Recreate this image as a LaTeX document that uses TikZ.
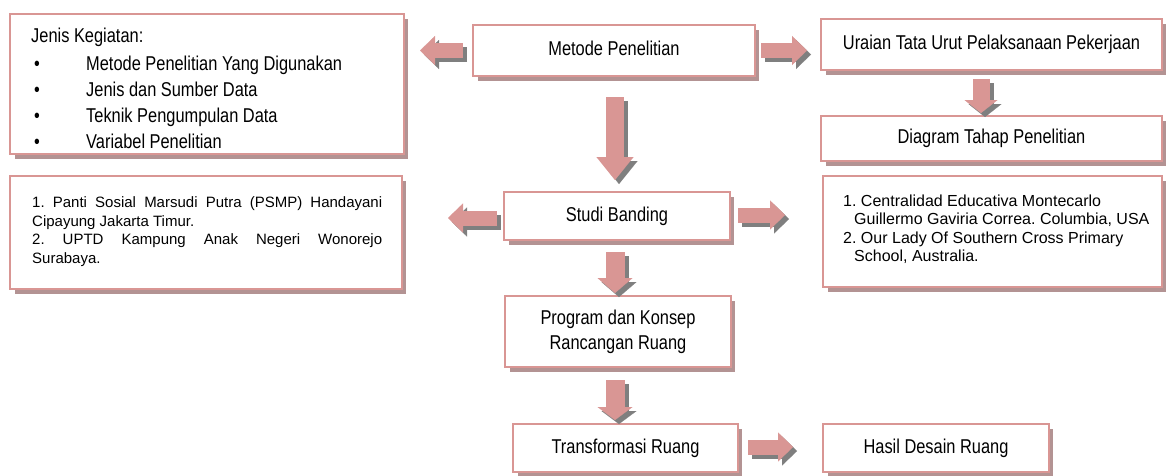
\documentclass[tikz,border=0pt]{standalone}
\usepackage{fontspec}
\setmainfont{Liberation Sans}
\newfontfamily\narrowfont[FakeStretch=0.82]{Liberation Sans}
\usetikzlibrary{calc,shadows,arrows.meta}
\frenchspacing
\definecolor{pinkline}{HTML}{D99694}
\definecolor{boxshade}{HTML}{B39393}
\definecolor{arrowshade}{HTML}{7F7F7F}
\tikzset{
  box/.style={draw=pinkline, line width=2.2pt, fill=white, inner sep=0pt,
    drop shadow={shadow xshift=4.5pt, shadow yshift=-5pt, fill=boxshade, opacity=1}},
  maintext/.style={font=\narrowfont\fontsize{20}{25}\selectfont, align=center,
    text height=14.3pt, text depth=4.2pt},
  blockarrow/.style n args={4}{line width=#1, draw=#4,
    -{Triangle[width=#2,length=#3,line width=0.1pt]}},
  plaintext/.style={inner sep=0pt, anchor=north west, align=left}
}
\newcommand\barrow[5]{%
  \draw[blockarrow={#3}{#4}{#5}{arrowshade}] ($#1+(4,4)$) -- ($#2+(4,4)$);
  \draw[blockarrow={#3}{#4}{#5}{pinkline}] #1 -- #2;}
\begin{document}
\begin{tikzpicture}[x=1pt,y=-1pt]
\useasboundingbox (0,0) rectangle (1166,475);
% boxes
\node[box, minimum width=393.8pt, minimum height=139.8pt] (box1) at (207,84) {};
\node[box, maintext, minimum width=281.8pt, minimum height=50.8pt] (metode) at (614,50.5) {Metode Penelitian};
\node[box, maintext, minimum width=340.8pt, minimum height=50.8pt] (uraian) at (991.5,44.5) {Uraian Tata Urut Pelaksanaan Pekerjaan};
\node[box, maintext, minimum width=340.8pt, minimum height=44.8pt] (diagram) at (991.5,138.5) {Diagram Tahap Penelitian};
\node[box, minimum width=391.8pt, minimum height=112.8pt] (box3) at (206,232.5) {};
\node[box, maintext, minimum width=225.8pt, minimum height=47.8pt] (studi) at (617,216) {Studi Banding};
\node[box, minimum width=338.8pt, minimum height=110.8pt] (box4) at (992.5,231.5) {};
\node[box, font=\narrowfont\fontsize{20}{25}\selectfont, align=center, minimum width=225.8pt, minimum height=70.8pt] (program) at (618,331.5) {Program dan Konsep\\Rancangan Ruang};
\node[box, maintext, minimum width=224.8pt, minimum height=47.8pt] (transf) at (625.5,448) {Transformasi Ruang};
\node[box, maintext, minimum width=225.8pt, minimum height=47.8pt] (hasil) at (936,448) {Hasil Desain Ruang};
% texts in the wide boxes
\node[plaintext, font=\narrowfont\fontsize{20}{26}\selectfont] (box1text) at (31,28)
  {Jenis Kegiatan:\\[2pt]
   \hspace*{3pt}\makebox[52pt][l]{\textbullet}Metode Penelitian Yang Digunakan\\
   \hspace*{3pt}\makebox[52pt][l]{\textbullet}Jenis dan Sumber Data\\
   \hspace*{3pt}\makebox[52pt][l]{\textbullet}Teknik Pengumpulan Data\\
   \hspace*{3pt}\makebox[52pt][l]{\textbullet}Variabel Penelitian};
\node[plaintext, font=\fontsize{15}{18.7}\selectfont] (box3text) at (32,196.5)
  {\makebox[350pt][s]{1. Panti Sosial Marsudi Putra (PSMP) Handayani}\\
   Cipayung Jakarta Timur.\\
   \makebox[350pt][s]{2. UPTD Kampung Anak Negeri Wonorejo}\\
   Surabaya.};
\node[plaintext, font=\fontsize{16}{18.5}\selectfont] (box4text) at (843,194.5)
  {1. Centralidad Educativa Montecarlo\\
   \hspace*{11pt}Guillermo Gaviria Correa. Columbia, USA\\
   2. Our Lady Of Southern Cross Primary\\
   \hspace*{11pt}School, Australia.};
% block arrows
\barrow{($(metode.west)+(-9,0)$)}{($(box1.east |- metode.west)+(15,0)$)}{15pt}{29pt}{15pt}
\barrow{($(metode.east)+(5,0)$)}{($(uraian.west |- metode.east)+(-13,0)$)}{15pt}{29pt}{15pt}
\barrow{($(metode.south)+(1,20)$)}{($(studi.north -| metode.south)+(1,-11)$)}{18pt}{37pt}{23pt}
\barrow{($(uraian.south)+(-10.5,8)$)}{($(diagram.north)+(-10.5,-2)$)}{17pt}{33pt}{13pt}
\barrow{($(studi.west)+(-6,2)$)}{($(box3.east |- studi.west)+(45,2)$)}{15pt}{29pt}{15pt}
\barrow{($(studi.east)+(7,-1)$)}{($(box4.west |- studi.east)+(-37,-1)$)}{15pt}{29pt}{15pt}
\barrow{($(studi.south)+(-2,11)$)}{($(program.north -| studi.south)+(-2,-2)$)}{19pt}{35pt}{15pt}
\barrow{($(program.south)+(-3,12)$)}{($(transf.north -| program.south)+(-3,-3)$)}{19pt}{35pt}{13pt}
\barrow{($(transf.east)+(9,-1)$)}{($(hasil.west |- transf.east)+(-29,-1)$)}{15pt}{29pt}{15pt}
\end{tikzpicture}
\end{document}
